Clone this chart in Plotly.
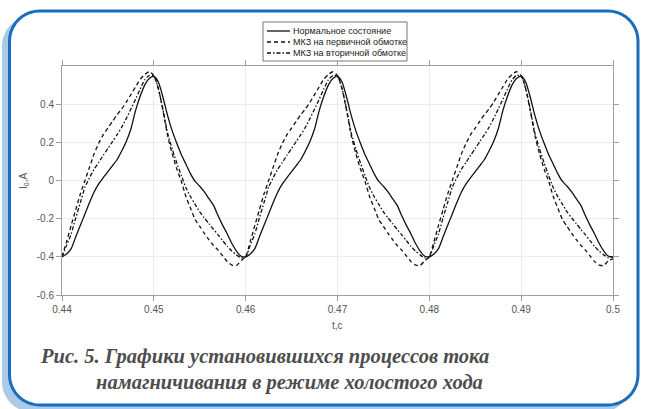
import numpy as np
import plotly.graph_objects as go

# ---------------- data ----------------
t_start, t_end, t_step = 0.44, 0.50, 0.0005
t = np.round(np.arange(t_start, t_end + t_step / 2, t_step), 4)

normal = [
    -0.40, -0.385, -0.357, -0.295, -0.235, -0.175, -0.115, -0.06, -0.018, 0.015,
    0.046, 0.078, 0.11, 0.155, 0.205, 0.27, 0.365, 0.44, 0.50, 0.535,
    0.545, 0.515, 0.435, 0.34, 0.26, 0.195, 0.135, 0.085, 0.035, -0.005,
    -0.03, -0.06, -0.095, -0.13, -0.185, -0.235, -0.28, -0.33, -0.37, -0.397,
    -0.40, -0.385, -0.357, -0.295, -0.235, -0.175, -0.115, -0.06, -0.018, 0.015,
    0.046, 0.078, 0.11, 0.155, 0.205, 0.27, 0.365, 0.44, 0.50, 0.535,
    0.545, 0.515, 0.435, 0.34, 0.26, 0.195, 0.135, 0.085, 0.035, -0.005,
    -0.03, -0.06, -0.095, -0.13, -0.185, -0.235, -0.28, -0.33, -0.37, -0.397,
    -0.40, -0.385, -0.357, -0.295, -0.235, -0.175, -0.115, -0.06, -0.018, 0.015,
    0.046, 0.078, 0.11, 0.155, 0.205, 0.27, 0.365, 0.44, 0.50, 0.535,
    0.545, 0.515, 0.435, 0.34, 0.26, 0.195, 0.135, 0.085, 0.035, -0.005,
    -0.03, -0.06, -0.095, -0.13, -0.185, -0.235, -0.28, -0.33, -0.37, -0.397,
    -0.40,
]

primary_sc = [
    -0.40, -0.32, -0.235, -0.152, -0.07, 0.0, 0.07, 0.14, 0.195, 0.24,
    0.275, 0.31, 0.345, 0.375, 0.41, 0.45, 0.49, 0.53, 0.555, 0.57,
    0.55, 0.48, 0.365, 0.235, 0.14, 0.06, -0.005, -0.085, -0.145, -0.205,
    -0.24, -0.277, -0.31, -0.34, -0.365, -0.395, -0.425, -0.443, -0.445, -0.42,
    -0.40, -0.32, -0.235, -0.152, -0.07, 0.0, 0.07, 0.14, 0.195, 0.24,
    0.275, 0.31, 0.345, 0.375, 0.41, 0.45, 0.49, 0.53, 0.555, 0.57,
    0.55, 0.48, 0.365, 0.235, 0.14, 0.06, -0.005, -0.085, -0.145, -0.205,
    -0.24, -0.277, -0.31, -0.34, -0.365, -0.395, -0.425, -0.443, -0.445, -0.42,
    -0.40, -0.32, -0.235, -0.152, -0.07, 0.0, 0.07, 0.14, 0.195, 0.24,
    0.275, 0.31, 0.345, 0.375, 0.41, 0.45, 0.49, 0.53, 0.555, 0.57,
    0.55, 0.48, 0.365, 0.235, 0.14, 0.06, -0.005, -0.085, -0.145, -0.205,
    -0.24, -0.277, -0.31, -0.34, -0.365, -0.395, -0.425, -0.443, -0.445, -0.42,
    -0.41,
]

secondary_sc = [
    -0.40, -0.34, -0.28, -0.195, -0.115, -0.035, 0.015, 0.06, 0.095, 0.133,
    0.168, 0.204, 0.24, 0.279, 0.325, 0.375, 0.425, 0.478, 0.527, 0.55,
    0.548, 0.48, 0.37, 0.248, 0.165, 0.092, 0.025, -0.038, -0.085, -0.125,
    -0.165, -0.196, -0.226, -0.256, -0.285, -0.315, -0.345, -0.37, -0.39, -0.405,
    -0.40, -0.34, -0.28, -0.195, -0.115, -0.035, 0.015, 0.06, 0.095, 0.133,
    0.168, 0.204, 0.24, 0.279, 0.325, 0.375, 0.425, 0.478, 0.527, 0.55,
    0.548, 0.48, 0.37, 0.248, 0.165, 0.092, 0.025, -0.038, -0.085, -0.125,
    -0.165, -0.196, -0.226, -0.256, -0.285, -0.315, -0.345, -0.37, -0.39, -0.405,
    -0.40, -0.34, -0.28, -0.195, -0.115, -0.035, 0.015, 0.06, 0.095, 0.133,
    0.168, 0.204, 0.24, 0.279, 0.325, 0.375, 0.425, 0.478, 0.527, 0.55,
    0.548, 0.48, 0.37, 0.248, 0.165, 0.092, 0.025, -0.038, -0.085, -0.125,
    -0.165, -0.196, -0.226, -0.256, -0.285, -0.315, -0.345, -0.37, -0.39, -0.405,
    -0.40,
]

series_names = [
    "Нормальное состояние",
    "МКЗ на первичной обмотке",
    "МКЗ на вторичной обмотке",
]
x_ticks = [0.44, 0.45, 0.46, 0.47, 0.48, 0.49, 0.50]
x_ticktext = ["0.44", "0.45", "0.46", "0.47", "0.48", "0.49", "0.5"]
y_ticks = [-0.6, -0.4, -0.2, 0.0, 0.2, 0.4]
y_ticktext = ["-0.6", "-0.4", "-0.2", "0", "0.2", "0.4"]

caption_1 = "Рис. 5. Графики установившихся процессов тока"
caption_2 = "намагничивания в режиме холостого хода"

# ---------------- layout geometry ----------------
W, H = 648, 409
L, R, T, B = 62, 613, 66, 295  # plot area in px


def px(xp):
    return (xp - L) / (R - L)


def py(yp):
    return (B - yp) / (B - T)


def rounded_path(x0, y0, x1, y1, r, n=10):
    pts = []
    corners = [
        (x1 - r, y0 + r, -90, 0),
        (x1 - r, y1 - r, 0, 90),
        (x0 + r, y1 - r, 90, 180),
        (x0 + r, y0 + r, 180, 270),
    ]
    for cx, cy, a0, a1 in corners:
        for k in range(n + 1):
            a = np.radians(a0 + (a1 - a0) * k / n)
            pts.append((cx + r * np.cos(a), cy + r * np.sin(a)))
    d = "M " + " L ".join(f"{px(a):.5f},{py(b):.5f}" for a, b in pts) + " Z"
    return d


dash_styles = ["solid", "4px,3px", "4px,2px,1.5px,2px"]
series_values = [normal, primary_sc, secondary_sc]

fig = go.Figure()
for name, vals, dsh in zip(series_names, series_values, dash_styles):
    fig.add_trace(go.Scatter(
        x=t, y=vals, mode="lines", name=name,
        line=dict(color="#111111", width=1.3, dash=dsh, shape="spline", smoothing=0.6),
        showlegend=False,
    ))

shapes = []
# shadow and frame
shapes.append(dict(type="path", xref="paper", yref="paper", layer="below",
                   path=rounded_path(2, 16, 631, 412, 30),
                   fillcolor="#a9cbe6", line=dict(width=0)))
shapes.append(dict(type="path", xref="paper", yref="paper", layer="below",
                   path=rounded_path(9.5, 11, 638, 405, 30),
                   fillcolor="white", line=dict(color="#1a6dbd", width=3)))
# legend box
lg_x0, lg_x1, lg_y0, lg_y1 = 263, 407, 22, 61
shapes.append(dict(type="rect", xref="paper", yref="paper",
                   x0=px(lg_x0), x1=px(lg_x1), y0=py(lg_y1), y1=py(lg_y0),
                   fillcolor="white", line=dict(color="#777777", width=1)))
legend_rows = [31, 42, 53]
annotations = []
for yy, name, dsh in zip(legend_rows, series_names, dash_styles):
    shapes.append(dict(type="line", xref="paper", yref="paper",
                       x0=px(267), x1=px(290), y0=py(yy), y1=py(yy),
                       line=dict(color="#111111", width=1.3, dash=dsh)))
    annotations.append(dict(xref="paper", yref="paper", x=px(291), y=py(yy),
                            text=name, showarrow=False, xanchor="left", yanchor="middle",
                            font=dict(family="Liberation Sans, Arial", size=9, color="#222222")))

# axis titles
annotations.append(dict(xref="paper", yref="paper", x=px(337), y=py(325),
                        text="t,c", showarrow=False, xanchor="center", yanchor="middle",
                        font=dict(family="Liberation Sans, Arial", size=10, color="#555555")))
annotations.append(dict(xref="paper", yref="paper", x=px(24), y=py(181),
                        text="I<sub>0</sub>,A", showarrow=False, textangle=-90,
                        xanchor="center", yanchor="middle",
                        font=dict(family="Liberation Sans, Arial", size=10, color="#555555")))
# caption
cap_font = dict(family="Liberation Serif, Times New Roman, serif", size=20.5, color="#4d4d4d")
annotations.append(dict(xref="paper", yref="paper", x=px(38), y=py(356),
                        text=f"<b><i>{caption_1}</i></b>", showarrow=False,
                        xanchor="left", yanchor="middle", font=cap_font))
annotations.append(dict(xref="paper", yref="paper", x=px(94), y=py(382),
                        text=f"<b><i>{caption_2}</i></b>", showarrow=False,
                        xanchor="left", yanchor="middle", font=cap_font))

axis_common = dict(
    showline=True, linecolor="#a0a0a0", linewidth=1, mirror="ticks",
    ticks="outside", ticklen=5, tickcolor="#a0a0a0", tickwidth=1,
    showgrid=True, gridcolor="#ececec", gridwidth=1, zeroline=False,
    tickfont=dict(family="Liberation Sans, Arial", size=10, color="#555555"),
)

fig.update_layout(
    width=W, height=H,
    margin=dict(l=L, r=W - R, t=T, b=H - B),
    paper_bgcolor="white", plot_bgcolor="rgba(0,0,0,0)",
    xaxis=dict(range=[0.44, 0.50], tickvals=x_ticks, ticktext=x_ticktext, **axis_common),
    yaxis=dict(range=[-0.6, 0.6], tickvals=y_ticks, ticktext=y_ticktext, **axis_common),
    shapes=shapes, annotations=annotations,
)

fig.write_html(
    "out.html",
    config={"displayModeBar": False},
    post_script="document.body.style.margin='0px';document.body.style.overflow='hidden';",
)
